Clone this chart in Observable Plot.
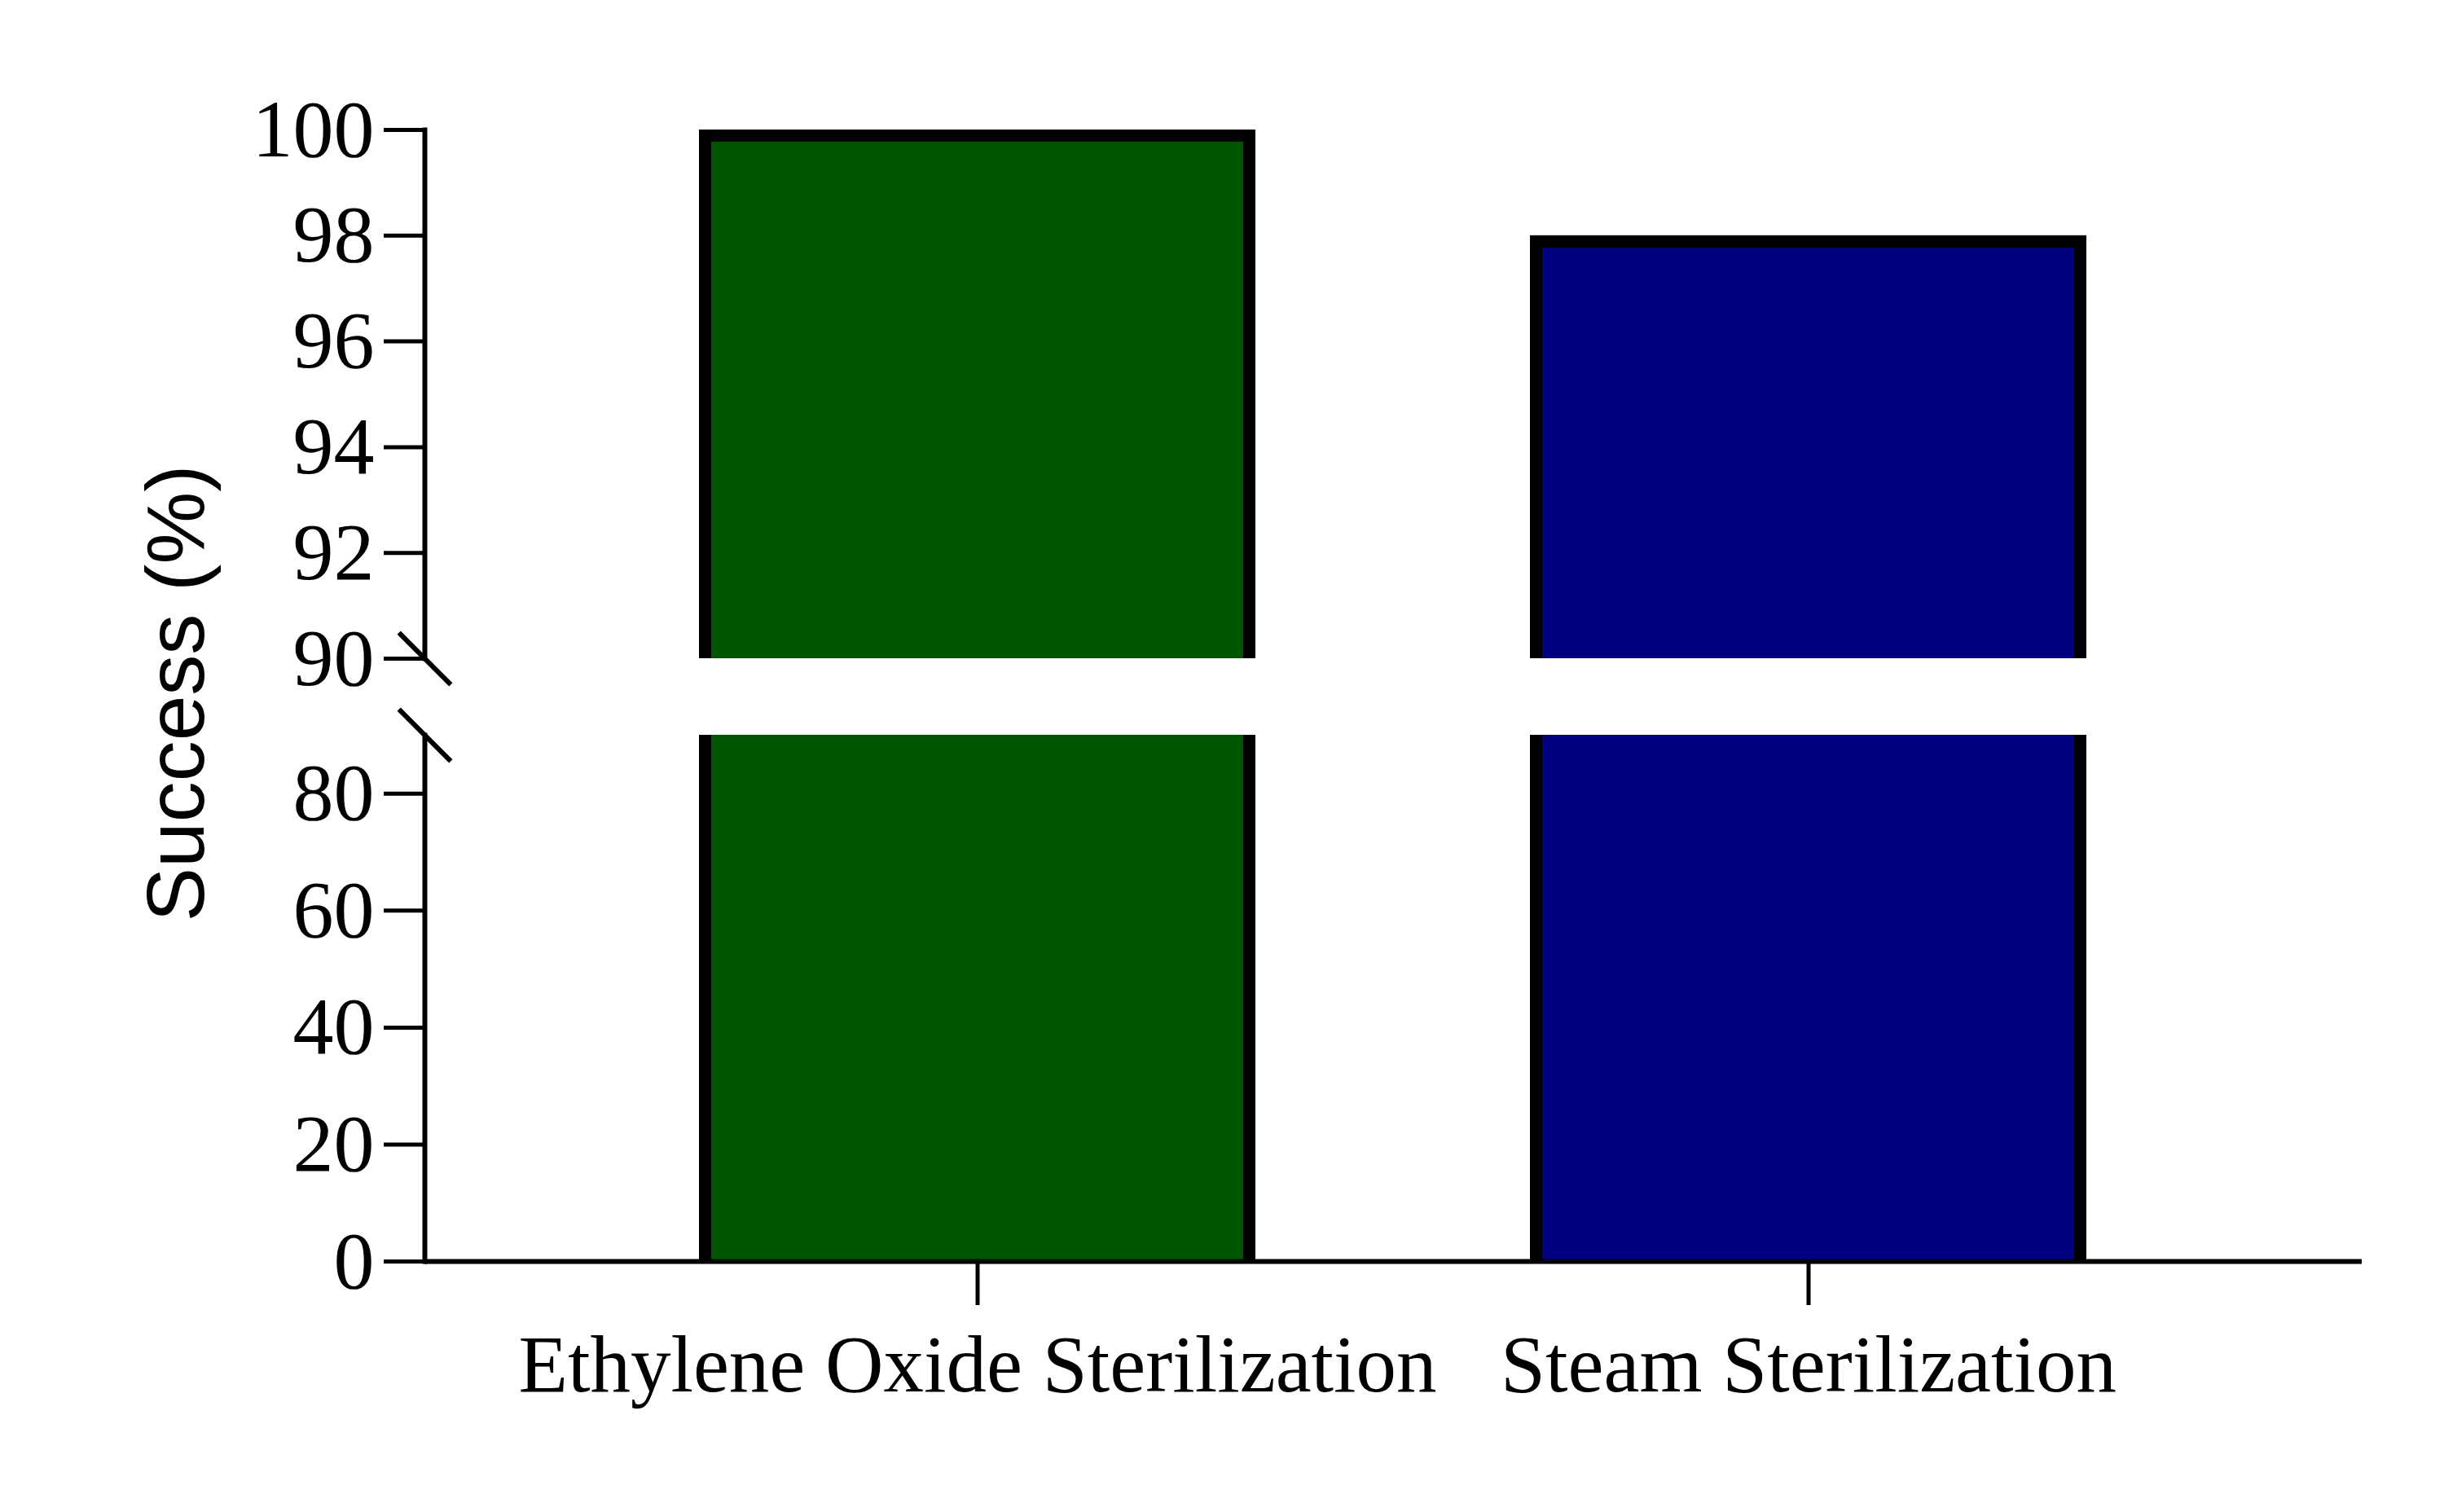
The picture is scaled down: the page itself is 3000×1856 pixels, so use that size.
<!DOCTYPE html>
<html>
<head>
<meta charset="utf-8">
<script src="https://cdn.jsdelivr.net/npm/d3@7"></script>
<script src="https://cdn.jsdelivr.net/npm/@observablehq/plot@0.6"></script>
<style>
  html, body { margin: 0; padding: 0; background: white; }
  #wrap { position: relative; width: 3000px; height: 1856px; background: white; overflow: hidden; }
  #upper, #lower { position: absolute; left: 0; }
  #upper { top: 0; }
  #lower { top: 850px; }
  #ylabel {
    position: absolute; left: 215px; top: 851px;
    transform: translate(-50%, -50%) rotate(-90deg);
    font-family: "Liberation Sans", Arial, sans-serif; font-size: 100px; color: black;
    white-space: nowrap; line-height: 1;
  }
  svg { overflow: visible; }
</style>
</head>
<body>
<div id="wrap">
  <div id="upper"></div>
  <div id="lower"></div>
  <div id="ylabel">Success (%)</div>
</div>
<script>
// ---- data ----
const categories = ["Ethylene Oxide Sterilization", "Steam Sterilization"];
const successValues = [100, 98];
const barColors = ["#005500", "#000080"];
const breakValue = 90;
const upperTicks = [90, 92, 94, 96, 98, 100];
const lowerTicks = [0, 20, 40, 60, 80];

const rows = categories.map((c, i) => ({category: c, value: successValues[i], color: barColors[i]}));

// slash symbol for the axis break
const slash = {
  draw(context, size) {
    const r = Math.sqrt(size / Math.PI);
    const a = r * Math.cos(Math.PI / 4);
    const b = r * Math.sin(Math.PI / 4);
    context.moveTo(-a, -b);
    context.lineTo(a, b);
  }
};

const common = {
  width: 3000,
  marginLeft: 521,
  marginRight: 101,
  style: {fontFamily: "'Liberation Serif', 'Times New Roman', serif", fontSize: "100px", color: "black", background: "white"}
};
const xScale = {domain: categories, padding: 0.33, align: 0.5};
const barStroke = 15;

const upper = Plot.plot({
  ...common,
  height: 850,
  marginTop: 159,
  marginBottom: 42,
  x: {...xScale, axis: null},
  y: {domain: [breakValue, 100]},
  marks: [
    Plot.barY(rows, {
      x: "category", y1: () => breakValue, y2: "value",
      fill: d => d.color, stroke: "black", strokeWidth: barStroke,
      inset: barStroke / 2, insetBottom: -30, clip: true
    }),
    Plot.axisY(upperTicks, {tickSize: 50, tickPadding: 12, strokeWidth: 5, label: null, fontSize: 100, tickFormat: d3.format("d")}),
    Plot.frame({anchor: "left", strokeWidth: 6}),
    Plot.dot([breakValue], {y: d => d, frameAnchor: "left", symbol: slash, r: 45, stroke: "black", strokeWidth: 6})
  ]
});
document.getElementById("upper").appendChild(upper);

const lower = Plot.plot({
  ...common,
  height: 1006,
  marginTop: 52,
  marginBottom: 308,
  x: {...xScale},
  y: {domain: [0, breakValue]},
  marks: [
    Plot.barY(rows, {
      x: "category", y1: () => 0, y2: d => Math.min(d.value, breakValue),
      fill: d => d.color, stroke: "black", strokeWidth: barStroke,
      inset: barStroke / 2, insetTop: -30, insetBottom: -30, clip: true
    }),
    Plot.axisY(lowerTicks, {tickSize: 50, tickPadding: 12, strokeWidth: 5, label: null, fontSize: 100, tickFormat: d3.format("d")}),
    Plot.axisX({tickSize: 54, tickPadding: 35, strokeWidth: 5, label: null, fontSize: 99}),
    Plot.frame({anchor: "left", strokeWidth: 6}),
    Plot.ruleY([0], {strokeWidth: 6}),
    Plot.dot([breakValue], {y: d => d, frameAnchor: "left", symbol: slash, r: 45, stroke: "black", strokeWidth: 6})
  ]
});
document.getElementById("lower").appendChild(lower);
</script>
</body>
</html>
